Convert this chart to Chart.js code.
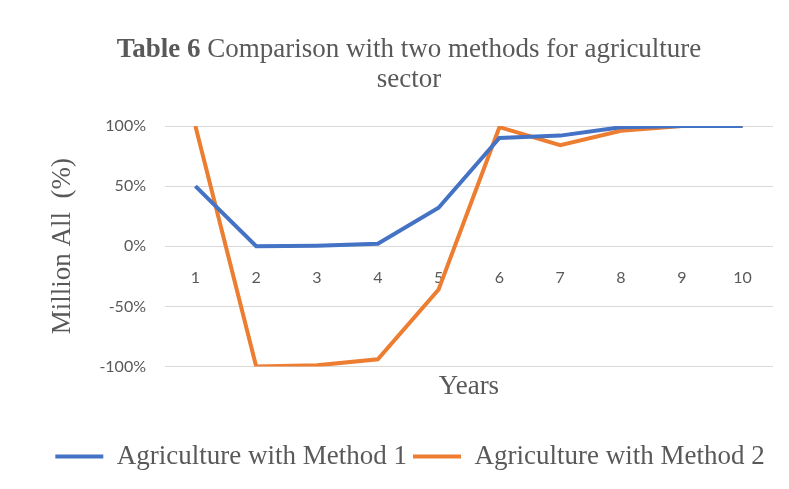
<!DOCTYPE html>
<html>
<head>
<meta charset="utf-8">
<script src="https://cdn.jsdelivr.net/npm/chart.js@4/dist/chart.umd.min.js"></script>
<style>
  html, body { margin: 0; padding: 0; background: #ffffff; }
  #wrap { width: 789px; height: 489px; position: relative; }
</style>
</head>
<body>
<div id="wrap"><canvas id="chart" width="789" height="489"></canvas></div>
<script>
// Years on the horizontal axis
const years = ['1', '2', '3', '4', '5', '6', '7', '8', '9', '10'];
// Percentages for each method
const method1 = [50, 0, 0.5, 2, 32, 90, 92, 99, 100, 100];
const method2 = [100, -100, -99, -94, -36, 99, 84, 96, 100, 100];
// Series names
const seriesNames = ['Agriculture with Method 1', 'Agriculture with Method 2'];
// Title pieces: bold lead followed by regular text, second line
const titleBold = 'Table 6';
const titleRest = ' Comparison with two methods for agriculture';
const titleLine2 = 'sector';

const SERIF = '"Liberation Serif", "Times New Roman", serif';
const SANS = 'Lato, "Open Sans", sans-serif';
const GREY = '#595959';

// Draws the two-line title with a bold lead-in
const richTitle = {
  id: 'richTitle',
  afterDraw(chart) {
    const ctx = chart.ctx;
    const cx = 409;
    const size = 27;
    ctx.save();
    ctx.textBaseline = 'middle';
    ctx.fillStyle = GREY;
    ctx.font = 'bold ' + size + 'px ' + SERIF;
    const wBold = ctx.measureText(titleBold).width;
    ctx.font = size + 'px ' + SERIF;
    const wRest = ctx.measureText(titleRest).width;
    let x = cx - (wBold + wRest) / 2;
    ctx.textAlign = 'left';
    ctx.font = 'bold ' + size + 'px ' + SERIF;
    ctx.fillText(titleBold, x, 50);
    ctx.font = size + 'px ' + SERIF;
    ctx.fillText(titleRest, x + wBold, 50);
    ctx.textAlign = 'center';
    ctx.fillText(titleLine2, cx, 80);
    ctx.restore();
  }
};

new Chart(document.getElementById('chart'), {
  type: 'line',
  data: {
    labels: years,
    datasets: [
      {
        label: seriesNames[0],
        data: method1,
        borderColor: '#4472C4',
        backgroundColor: '#4472C4',
        borderWidth: 4,
        pointRadius: 0,
        tension: 0
      },
      {
        label: seriesNames[1],
        data: method2,
        borderColor: '#ED7D31',
        backgroundColor: '#ED7D31',
        borderWidth: 4,
        pointRadius: 0,
        tension: 0
      }
    ]
  },
  options: {
    responsive: false,
    animation: false,
    layout: { padding: { top: 126, left: 47, right: 16, bottom: 9 } },
    plugins: {
      title: { display: false },
      tooltip: { enabled: false },
      legend: {
        position: 'bottom',
        labels: {
          usePointStyle: true,
          pointStyle: 'line',
          pointStyleWidth: 48,
          font: { family: SERIF, size: 27 },
          color: GREY,
          padding: 6
        }
      }
    },
    scales: {
      x: {
        type: 'category',
        position: { y: 0 },
        offset: true,
        grid: { display: false, drawTicks: false },
        border: { display: false },
        ticks: {
          color: GREY,
          font: { family: SANS, size: 16 },
          padding: 22,
          maxRotation: 0
        }
      },
      xTitle: {
        type: 'category',
        position: 'bottom',
        offset: true,
        afterFit(scale) { scale.height = 70.5; },
        grid: { display: false, drawTicks: false },
        border: { display: false },
        ticks: { display: false },
        title: {
          display: true,
          text: 'Years',
          color: GREY,
          font: { family: SERIF, size: 27 },
          padding: { top: 0, bottom: 34 }
        }
      },
      y: {
        min: -100,
        max: 100,
        afterFit(scale) { scale.width = 118; },
        grid: { color: '#d9d9d9', lineWidth: 1, drawTicks: false },
        border: { display: false },
        ticks: {
          stepSize: 50,
          padding: 19,
          color: GREY,
          font: { family: SANS, size: 16 },
          callback: (v) => v + '%'
        },
        title: {
          display: true,
          text: 'Million All  (%)',
          color: GREY,
          font: { family: SERIF, size: 27 },
          padding: 0
        }
      }
    }
  },
  plugins: [richTitle]
});
</script>
</body>
</html>
